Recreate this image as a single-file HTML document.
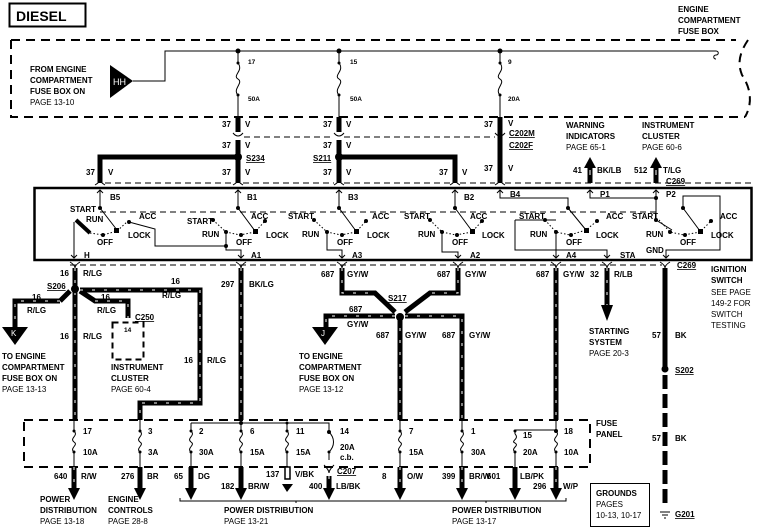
<!DOCTYPE html>
<html><head><meta charset="utf-8"><style>
html,body{margin:0;padding:0;background:#fff}
svg{display:block}
text{font-family:"Liberation Sans",sans-serif;font-weight:bold;font-size:8px;fill:#000}
.s{font-size:6.5px}
.n{font-weight:normal}
.w{stroke:#000;stroke-width:5;fill:none}
.ws{stroke:#fff;stroke-width:1;fill:none;stroke-dasharray:3 9}
.th{stroke:#000;stroke-width:1;fill:none}
.d{stroke:#000;stroke-width:2;fill:none;stroke-dasharray:9 6}
.dl{stroke:#000;stroke-width:1;fill:none;stroke-dasharray:6 4}
.dt{stroke:#000;stroke-width:1;fill:none;stroke-dasharray:1.5 2}
</style></head><body>
<svg width="762" height="530" viewBox="0 0 762 530" xmlns="http://www.w3.org/2000/svg">
<!-- DIESEL -->
<rect x="9.5" y="3.5" width="76" height="23" fill="none" stroke="#000" stroke-width="2"/>
<text x="16" y="21" style="font-size:14px">DIESEL</text>

<!-- top fuse box -->
<path class="d" d="M11 40 H736 M11 40 V117 H745"/>
<path class="d" d="M748 40 C738 55 738 65 742 75 C752 90 752 105 745 117"/>
<text x="678" y="12">ENGINE</text><text x="678" y="23">COMPARTMENT</text><text x="678" y="34">FUSE BOX</text>
<text x="30" y="72">FROM ENGINE</text><text x="30" y="83">COMPARTMENT</text><text x="30" y="94">FUSE BOX ON</text><text x="30" y="105" class="n">PAGE 13-10</text>
<polygon points="110,65 133,81 110,98" fill="#000"/>
<text x="113" y="85" style="fill:#fff;font-size:9px" class="n">HH</text>
<path class="th" d="M133 81 H165 V51 H716 M716 51 c3 0 3 4 0 4 c-3 0 -3 4 0 4"/>
<!-- fuses top -->
<g>
<path class="th" d="M238 51 V63 M238 95 V117 M238 63 c6 8 -6 12 0 16 c6 4 -6 10 0 16"/>
<path class="th" d="M339 51 V63 M339 95 V117 M339 63 c6 8 -6 12 0 16 c6 4 -6 10 0 16"/>
<path class="th" d="M500 51 V63 M500 95 V117 M500 63 c6 8 -6 12 0 16 c6 4 -6 10 0 16"/>
<circle cx="238" cy="51" r="2.5"/><circle cx="339" cy="51" r="2.5"/><circle cx="500" cy="51" r="2.5"/>
<circle cx="238" cy="63" r="1.5"/><circle cx="339" cy="63" r="1.5"/><circle cx="500" cy="63" r="1.5"/>
<circle cx="238" cy="95" r="1.5"/><circle cx="339" cy="95" r="1.5"/><circle cx="500" cy="95" r="1.5"/>
<text x="248" y="64" class="s">17</text><text x="350" y="64" class="s">15</text><text x="508" y="64" class="s">9</text>
<text x="248" y="101" class="s">50A</text><text x="350" y="101" class="s">50A</text><text x="508" y="101" class="s">20A</text>
</g>
<!-- thick wires to switch -->
<path class="w" d="M238 117 V132 M238 140 V183 M339 117 V132 M339 140 V183 M500 117 V183"/>
<path class="th" d="M233 133 q5 6 10 0 M334 133 q5 6 10 0 M495 133 q5 6 10 0"/>
<path class="dl" d="M244 137 H334 M344 137 H495"/>
<path class="w" d="M238 157 H100 V183 M339 157 H455 V183"/>
<circle cx="238" cy="157" r="4"/><circle cx="339" cy="157" r="4"/>
<path class="th" d="M95 185 q5 -3 5 -5 q0 2 5 5 M233 185 q5 -3 5 -5 q0 2 5 5 M334 185 q5 -3 5 -5 q0 2 5 5 M450 185 q5 -3 5 -5 q0 2 5 5 M495 185 q5 -3 5 -5 q0 2 5 5"/>
<path class="dl" d="M105 183 H233 M243 183 H334 M344 183 H450 M460 183 H495 M505 183 H752"/>
<g>
<text x="222" y="127">37</text><text x="245" y="127">V</text>
<text x="222" y="148">37</text><text x="245" y="148">V</text>
<text x="222" y="175">37</text><text x="245" y="175">V</text>
<text x="323" y="127">37</text><text x="346" y="127">V</text>
<text x="323" y="148">37</text><text x="346" y="148">V</text>
<text x="323" y="175">37</text><text x="346" y="175">V</text>
<text x="484" y="127">37</text><text x="508" y="126">V</text>
<text x="484" y="171">37</text><text x="508" y="171">V</text>
<text x="86" y="175">37</text><text x="108" y="175">V</text>
<text x="439" y="175">37</text><text x="462" y="175">V</text>
<text x="246" y="161" text-decoration="underline">S234</text>
<text x="313" y="161" text-decoration="underline">S211</text>
<text x="509" y="136" text-decoration="underline">C202M</text>
<text x="509" y="148" text-decoration="underline">C202F</text>
</g>
<!-- upward outputs -->
<path class="w" d="M590 183 V168 M656 183 V168"/>
<polygon points="584,168 590,157 596,168" fill="#000"/><polygon points="650,168 656,157 662,168" fill="#000"/>
<path stroke="#fff" stroke-width="1" d="M590 170 v5 M656 170 v5"/>
<text x="566" y="128">WARNING</text><text x="566" y="139">INDICATORS</text><text x="566" y="150" class="n">PAGE 65-1</text>
<text x="642" y="128">INSTRUMENT</text><text x="642" y="139">CLUSTER</text><text x="642" y="150" class="n">PAGE 60-6</text>
<text x="573" y="173">41</text><text x="597" y="173">BK/LB</text>
<text x="634" y="173">512</text><text x="663" y="173">T/LG</text>
<text x="666" y="184" text-decoration="underline">C269</text>

<!-- switch box -->
<rect x="34.5" y="188" width="717" height="72" fill="none" stroke="#000" stroke-width="2.5"/>
<path class="dl" d="M100 212 H656"/>
<g class="th">
<!-- inputs -->
<path d="M100 190 V208 M238 190 V208 M339 190 V208 M455 190 V208 M500 190 V198 H568 V208 M590 190 V198 H656 M656 190 V220 L672 230"/>
<path d="M97 193 l3 -3 l3 3 M235 193 l3 -3 l3 3 M336 193 l3 -3 l3 3 M452 193 l3 -3 l3 3 M497 193 l3 -3 l3 3 M587 193 l3 -3 l3 3 M653 193 l3 -3 l3 3"/>
<!-- levers -->
<path d="M100 208 L117 230 M238 208 L255 231 M339 208 L356 231 M455 208 L472 231 M568 208 L586 230 M683 208 L700 231"/>
<!-- outputs -->
<path d="M74 222 V258 M71 255 l3 3 l3 -3 M226 230 V250 H241 V258 M238 255 l3 3 l3 -3 M327 230 V250 H342 V258 M339 255 l3 3 l3 -3 M442 230 V252 H458 V258 M455 255 l3 3 l3 -3 M556 230 V258 M553 255 l3 3 l3 -3 M515 220 H556 M515 220 V250 H607 V258 M604 255 l3 3 l3 -3 M683 208 V196 H720 V250 H666 V258 M663 255 l3 3 l3 -3"/>
<path d="M129 222 L155 229 V246 H226"/>
</g>
<path d="M76 220 L90 233" stroke="#000" stroke-width="4"/>
<g class="dt">
<path d="M90 233 L103 235 L117 231 L128 221"/>
<path d="M213 220 L226 232 L240 235 L255 232 L265 221"/>
<path d="M314 220 L327 232 L341 235 L356 232 L366 221"/>
<path d="M430 220 L442 232 L456 235 L472 232 L482 221"/>
<path d="M545 220 L556 232 L570 235 L586 230 L597 221"/>
<path d="M659 220 L670 232 L684 235 L700 232 L711 221"/>
</g>
<g>
<circle cx="100" cy="208" r="2"/><circle cx="103" cy="235" r="2"/><rect x="114" y="228" width="5" height="5"/><circle cx="129" cy="222" r="2"/>
<circle cx="238" cy="208" r="2"/><circle cx="213" cy="220" r="2"/><circle cx="226" cy="232" r="2"/><circle cx="241" cy="235" r="2"/><rect x="253" y="229" width="5" height="5"/><circle cx="265" cy="221" r="2"/><circle cx="226" cy="246" r="2"/>
<circle cx="339" cy="208" r="2"/><circle cx="314" cy="220" r="2"/><circle cx="327" cy="232" r="2"/><circle cx="342" cy="235" r="2"/><rect x="354" y="229" width="5" height="5"/><circle cx="366" cy="221" r="2"/>
<circle cx="455" cy="208" r="2"/><circle cx="430" cy="220" r="2"/><circle cx="442" cy="232" r="2"/><circle cx="457" cy="235" r="2"/><rect x="470" y="229" width="5" height="5"/><circle cx="482" cy="221" r="2"/>
<circle cx="568" cy="208" r="2"/><circle cx="545" cy="220" r="2"/><circle cx="556" cy="232" r="2"/><circle cx="571" cy="235" r="2"/><rect x="584" y="228" width="5" height="5"/><circle cx="597" cy="221" r="2"/>
<circle cx="683" cy="208" r="2"/><circle cx="656" cy="198" r="2"/><circle cx="656" cy="220" r="2"/><circle cx="670" cy="232" r="2"/><circle cx="685" cy="235" r="2"/><rect x="698" y="229" width="5" height="5"/><circle cx="711" cy="221" r="2"/>
</g>
<g class="s">
<text x="110" y="200">B5</text><text x="247" y="200">B1</text><text x="348" y="200">B3</text><text x="464" y="200">B2</text><text x="510" y="197">B4</text><text x="600" y="197">P1</text><text x="666" y="197">P2</text>
<text x="70" y="212">START</text><text x="86" y="222">RUN</text><text x="97" y="245">OFF</text><text x="128" y="238">LOCK</text><text x="139" y="219">ACC</text>
<text x="187" y="224">START</text><text x="202" y="237">RUN</text><text x="236" y="245">OFF</text><text x="266" y="238">LOCK</text><text x="251" y="219">ACC</text>
<text x="288" y="219">START</text><text x="302" y="237">RUN</text><text x="337" y="245">OFF</text><text x="367" y="238">LOCK</text><text x="372" y="219">ACC</text>
<text x="404" y="219">START</text><text x="418" y="237">RUN</text><text x="452" y="245">OFF</text><text x="482" y="238">LOCK</text><text x="470" y="219">ACC</text>
<text x="519" y="219">START</text><text x="530" y="237">RUN</text><text x="566" y="245">OFF</text><text x="596" y="238">LOCK</text><text x="606" y="219">ACC</text>
<text x="632" y="219">START</text><text x="646" y="237">RUN</text><text x="680" y="245">OFF</text><text x="711" y="238">LOCK</text><text x="720" y="219">ACC</text>
<text x="84" y="258">H</text><text x="251" y="258">A1</text><text x="352" y="258">A3</text><text x="470" y="258">A2</text><text x="566" y="258">A4</text><text x="620" y="258">STA</text><text x="646" y="253">GND</text>
</g>
<!-- connector row at 265 -->
<path class="dl" d="M70 265 H662"/>
<path class="th" d="M70 262 q5 3 5 6 q0 -3 5 -6 M236 262 q5 3 5 6 q0 -3 5 -6 M337 262 q5 3 5 6 q0 -3 5 -6 M453 262 q5 3 5 6 q0 -3 5 -6 M551 262 q5 3 5 6 q0 -3 5 -6 M602 262 q5 3 5 6 q0 -3 5 -6 M660 262 q5 3 5 6 q0 -3 5 -6"/>
<text x="677" y="268" text-decoration="underline">C269</text>
<text x="711" y="272">IGNITION</text><text x="711" y="283">SWITCH</text>
<text x="711" y="295" class="n">SEE PAGE</text><text x="711" y="306" class="n">149-2 FOR</text><text x="711" y="317" class="n">SWITCH</text><text x="711" y="328" class="n">TESTING</text>

<!-- lower striped wires -->
<g>
<path class="w" d="M75 268 V420 M60 301 L70 291 M60 301 H15 V327 M80 290 H200 V403 H140 V420 M80 291 L95 301 H128 V318 M241 268 V420 M342 268 V293 H375 L395 312 M458 268 V293 H430 L405 312 M395 316 H326 V327 M405 316 H462 V420 M400 316 V420 M556 268 V420 M607 268 V305"/>
<path class="ws" d="M75 268 V420 M60 301 H15 V327 M80 290 H200 V403 H140 V420 M95 301 H128 V318 M241 268 V420 M342 268 V293 H375 M458 268 V293 H430 M395 316 H326 V327 M405 316 H462 V420 M400 316 V420 M556 268 V420 M607 268 V305"/>
<path d="M665 268 V370" stroke="#000" stroke-width="5"/>
<path d="M665 375 V505" stroke="#000" stroke-width="5" stroke-dasharray="14 5"/>
<circle cx="75" cy="289" r="4"/><circle cx="400" cy="317" r="4"/><circle cx="665" cy="369" r="3.5"/>
<polygon points="601,305 607,321 613,305" fill="#000"/>
<polygon points="2,327 28,327 15,345" fill="#000"/><text x="11" y="336" style="fill:#fff" class="n">K</text>
<polygon points="312,327 338,327 325,345" fill="#000"/><text x="321" y="336" style="fill:#fff" class="n">J</text>
<rect x="112.5" y="322.5" width="31" height="37" class="dl" style="stroke-width:2"/>
<text x="124" y="332" class="s">14</text>
<path class="th" d="M660 512 H670 M662 515 H668 M664 518 H666"/>
</g>
<g>
<text x="60" y="276">16</text><text x="83" y="276">R/LG</text>
<text x="47" y="289" text-decoration="underline">S206</text>
<text x="32" y="300">16</text><text x="27" y="313">R/LG</text>
<text x="101" y="300">16</text><text x="97" y="313">R/LG</text>
<text x="171" y="284">16</text><text x="162" y="298">R/LG</text>
<text x="135" y="320" text-decoration="underline">C250</text>
<text x="60" y="339">16</text><text x="83" y="339">R/LG</text>
<text x="184" y="363">16</text><text x="207" y="363">R/LG</text>
<text x="221" y="287">297</text><text x="249" y="287">BK/LG</text>
<text x="2" y="359">TO ENGINE</text><text x="2" y="370">COMPARTMENT</text><text x="2" y="381">FUSE BOX ON</text><text x="2" y="392" class="n">PAGE 13-13</text>
<text x="111" y="370">INSTRUMENT</text><text x="111" y="381">CLUSTER</text><text x="111" y="392" class="n">PAGE 60-4</text>
<text x="299" y="359">TO ENGINE</text><text x="299" y="370">COMPARTMENT</text><text x="299" y="381">FUSE BOX ON</text><text x="299" y="392" class="n">PAGE 13-12</text>
<text x="321" y="277">687</text><text x="347" y="277">GY/W</text>
<text x="349" y="312">687</text><text x="347" y="327">GY/W</text>
<text x="388" y="301" text-decoration="underline">S217</text>
<text x="437" y="277">687</text><text x="465" y="277">GY/W</text>
<text x="536" y="277">687</text><text x="563" y="277">GY/W</text>
<text x="590" y="277">32</text><text x="614" y="277">R/LB</text>
<text x="376" y="338">687</text><text x="405" y="338">GY/W</text>
<text x="442" y="338">687</text><text x="469" y="338">GY/W</text>
<text x="589" y="334">STARTING</text><text x="589" y="345">SYSTEM</text><text x="589" y="356" class="n">PAGE 20-3</text>
<text x="652" y="338">57</text><text x="675" y="338">BK</text>
<text x="675" y="373" text-decoration="underline">S202</text>
<text x="652" y="441">57</text><text x="675" y="441">BK</text>
<text x="675" y="517" text-decoration="underline">G201</text>
</g>

<!-- fuse panel -->
<path class="d" d="M24 420 H590 V467 H24 V420"/>
<text x="596" y="426">FUSE</text><text x="596" y="437">PANEL</text>
<path class="th" d="M191 423 H329 V432 M515 430 H556"/>
<g class="th">
<path d="M74 420 V431 M74 452 V467 c0 0 0 0 0 0 M74 431 c5 5 -5 7 0 11 c5 3 -5 6 0 10"/>
<path d="M140 420 V431 M140 452 V467 M140 431 c5 5 -5 7 0 11 c5 3 -5 6 0 10"/>
<path d="M191 423 V431 M191 452 V467 M191 431 c5 5 -5 7 0 11 c5 3 -5 6 0 10"/>
<path d="M241 420 V431 M241 452 V467 M241 431 c5 5 -5 7 0 11 c5 3 -5 6 0 10"/>
<path d="M287 423 V431 M287 452 V467 M287 431 c5 5 -5 7 0 11 c5 3 -5 6 0 10"/>
<path d="M329 432 c6 6 6 14 0 20 V460"/>
<path d="M400 420 V431 M400 452 V467 M400 431 c5 5 -5 7 0 11 c5 3 -5 6 0 10"/>
<path d="M462 420 V431 M462 452 V467 M462 431 c5 5 -5 7 0 11 c5 3 -5 6 0 10"/>
<path d="M515 430 V434 M515 452 V467 M515 434 c5 5 -5 7 0 9 c5 3 -5 5 0 9"/>
<path d="M556 420 V431 M556 452 V467 M556 431 c5 5 -5 7 0 11 c5 3 -5 6 0 10"/>
</g>
<g>
<circle cx="74" cy="431" r="1.5"/><circle cx="74" cy="452" r="1.5"/><circle cx="140" cy="431" r="1.5"/><circle cx="140" cy="452" r="1.5"/>
<circle cx="191" cy="431" r="1.5"/><circle cx="191" cy="452" r="1.5"/><circle cx="241" cy="431" r="1.5"/><circle cx="241" cy="452" r="1.5"/><circle cx="241" cy="423" r="2"/>
<circle cx="287" cy="431" r="1.5"/><circle cx="287" cy="452" r="1.5"/><circle cx="287" cy="423" r="1.5"/><circle cx="329" cy="432" r="2"/><circle cx="329" cy="452" r="1.5"/>
<circle cx="400" cy="431" r="1.5"/><circle cx="400" cy="452" r="1.5"/><circle cx="462" cy="431" r="1.5"/><circle cx="462" cy="452" r="1.5"/>
<circle cx="515" cy="431" r="1.5"/><circle cx="515" cy="452" r="1.5"/><circle cx="556" cy="431" r="2"/><circle cx="556" cy="452" r="1.5"/>
</g>
<g class="s">
<text x="83" y="434">17</text><text x="83" y="455">10A</text><text x="148" y="434">3</text><text x="148" y="455">3A</text>
<text x="199" y="434">2</text><text x="199" y="455">30A</text><text x="250" y="434">6</text><text x="250" y="455">15A</text>
<text x="296" y="434">11</text><text x="296" y="455">15A</text><text x="340" y="434">14</text><text x="340" y="450">20A</text><text x="340" y="460">c.b.</text>
<text x="409" y="434">7</text><text x="409" y="455">15A</text><text x="471" y="434">1</text><text x="471" y="455">30A</text>
<text x="523" y="438">15</text><text x="523" y="455">20A</text><text x="564" y="434">18</text><text x="564" y="455">10A</text>
</g>
<!-- output down arrows -->
<g>
<path class="w" d="M74 467 V490 M140 467 V490 M191 467 V490 M241 467 V490 M400 467 V490 M462 467 V490 M515 467 V490 M556 467 V490 M329 476 V490"/>
<path class="ws" d="M74 467 V490 M556 467 V490 M462 467 V490 M400 467 V490 M329 476 V490"/>
<rect x="285" y="467" width="5" height="12" fill="#fff" stroke="#000" stroke-width="1.5"/>
<polygon points="68,488 80,488 74,500" fill="#000"/><polygon points="134,488 146,488 140,500" fill="#000"/>
<polygon points="185,488 197,488 191,500" fill="#000"/><polygon points="235,488 247,488 241,500" fill="#000"/>
<polygon points="282,484 293,484 287,492" fill="#000"/><polygon points="323,488 335,488 329,500" fill="#000"/>
<polygon points="394,488 406,488 400,500" fill="#000"/><polygon points="456,488 468,488 462,500" fill="#000"/>
<polygon points="509,488 521,488 515,500" fill="#000"/><polygon points="550,488 562,488 556,500" fill="#000"/>
<path class="th" d="M324 465 q5 5 5 8 q0 -3 5 -8"/>
</g>
<g>
<text x="54" y="479">640</text><text x="81" y="479">R/W</text>
<text x="121" y="479">276</text><text x="147" y="479">BR</text>
<text x="174" y="479">65</text><text x="198" y="479">DG</text>
<text x="221" y="489">182</text><text x="248" y="489">BR/W</text>
<text x="266" y="477">137</text><text x="295" y="477">V/BK</text>
<text x="337" y="474" text-decoration="underline">C207</text>
<text x="309" y="489">400</text><text x="336" y="489">LB/BK</text>
<text x="382" y="479">8</text><text x="407" y="479">O/W</text>
<text x="442" y="479">399</text><text x="469" y="479">BR/W</text><text x="487" y="479">601</text><text x="520" y="479">LB/PK</text>
<text x="533" y="489">296</text><text x="563" y="489">W/P</text>
</g>
<path class="th" d="M180 498 v3 H566 V498 M296 501 v2 M486 501 v2"/>
<text x="40" y="502">POWER</text><text x="40" y="513">DISTRIBUTION</text><text x="40" y="524" class="n">PAGE 13-18</text>
<text x="108" y="502">ENGINE</text><text x="108" y="513">CONTROLS</text><text x="108" y="524" class="n">PAGE 28-8</text>
<text x="224" y="513">POWER DISTRIBUTION</text><text x="224" y="524" class="n">PAGE 13-21</text>
<text x="452" y="513">POWER DISTRIBUTION</text><text x="452" y="524" class="n">PAGE 13-17</text>
<rect x="590.5" y="483.5" width="59" height="43" fill="none" stroke="#000" stroke-width="1"/>
<text x="596" y="496">GROUNDS</text><text x="596" y="507" class="n">PAGES</text><text x="596" y="518" class="n">10-13, 10-17</text>
</svg>
</body></html>
